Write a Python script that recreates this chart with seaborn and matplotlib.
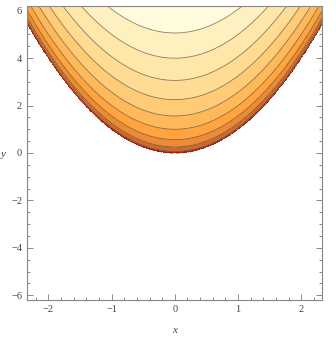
import numpy as np
import matplotlib
matplotlib.use("Agg")
import matplotlib.pyplot as plt
from matplotlib.ticker import MultipleLocator
import seaborn as sns

# plot ranges
x_range = [-2.34, 2.33]
y_range = [-6.2, 6.2]

# contour levels of f(x, y) = sqrt(y - x^2)
levels = [0.0, 0.25, 0.5, 0.75, 1.0, 1.25, 1.5, 1.75, 2.0, 2.25, 2.5]
band_colors = ['#a3291b', '#cc6830', '#eb8a37', '#ffa43e', '#ffb95b',
               '#ffcb77', '#ffdb94', '#ffe6a9', '#fff0c0', '#fffbdc']

xs = np.linspace(x_range[0], x_range[1], 700)
ys = np.linspace(y_range[0], y_range[1], 900)
X, Y = np.meshgrid(xs, ys)
inside = Y - X**2
Z = np.where(inside >= 0, np.sqrt(np.clip(inside, 0, None)), np.nan)

sns.set_style("ticks")
plt.rcParams['font.family'] = ['Liberation Serif', 'DejaVu Serif']

fig = plt.figure(figsize=(3.36, 3.39), dpi=100)
ax = fig.add_axes([27 / 336, 1 - 300 / 339, 295 / 336, 294 / 339])

ax.contourf(X, Y, Z, levels=levels, colors=band_colors)
ax.contour(X, Y, Z, levels=levels[1:-1], colors='#5a4a30', linewidths=0.6, alpha=0.7)
# dark fringe along the edge of the real-valued region
ax.contour(X, Y, Z, levels=[0.08], colors='#9a2015', linewidths=1.0)

ax.set_xlim(x_range)
ax.set_ylim(y_range)

ax.xaxis.set_major_locator(MultipleLocator(1))
ax.xaxis.set_minor_locator(MultipleLocator(0.2))
ax.yaxis.set_major_locator(MultipleLocator(2))
ax.yaxis.set_minor_locator(MultipleLocator(0.5))
ax.tick_params(which='both', direction='in', top=True, right=True,
               colors='#777777', labelcolor='#444444', labelsize=7.5, width=0.6)
ax.tick_params(which='major', length=4)
ax.tick_params(which='minor', length=2)
for s in ax.spines.values():
    s.set_color('#888888')
    s.set_linewidth(0.8)

ax.set_xlabel('x', fontstyle='italic', fontsize=8, color='#444444', labelpad=9)
ax.set_ylabel('y', fontstyle='italic', fontsize=8, color='#444444', rotation=0, va='center')
ax.yaxis.set_label_coords(-0.08, 0.495)

plt.savefig('out.png', dpi=100)
